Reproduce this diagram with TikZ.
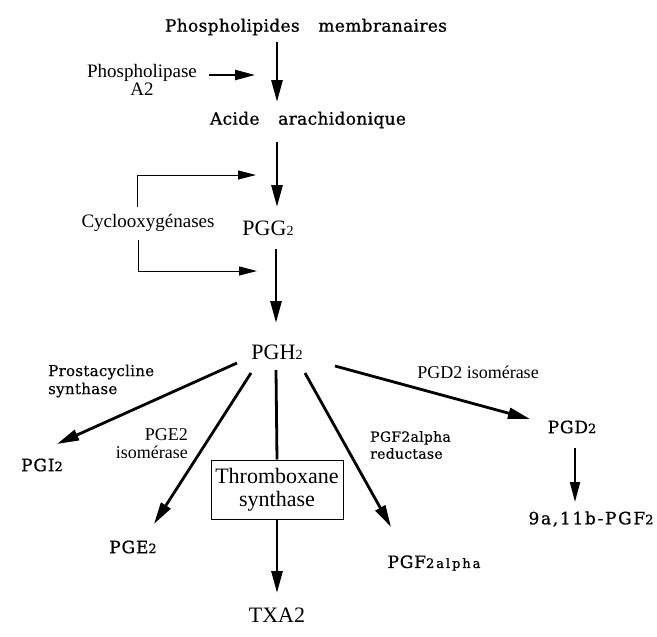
\documentclass[tikz,border=0pt]{standalone}
\usepackage{fontspec}
\setmainfont{Liberation Serif}
\newfontfamily\dvs[LetterSpace=2,FakeBold=0.8]{DejaVu Serif}
\newfontfamily\dvl[LetterSpace=2,FakeBold=0.4]{DejaVu Serif}
\newfontfamily\dvp[LetterSpace=5,FakeBold=0.8]{DejaVu Serif}
\newfontfamily\dvw[LetterSpace=10,FakeBold=0.8]{DejaVu Serif}
\newfontfamily\dvx[LetterSpace=15,FakeBold=0.8]{DejaVu Serif}
\usetikzlibrary{arrows.meta,calc}
\newcommand{\subtwo}[1]{{\fontsize{14}{14}\selectfont #1}}
\newcommand{\subtwodv}[1]{{\fontsize{13}{13}\selectfont #1}}
\begin{document}
\begin{tikzpicture}[x=1pt,y=-1pt,
  every node/.style={inner sep=0pt},
  wide/.style={font=\dvs\fontsize{17}{18}\selectfont},
  prod/.style={font=\dvp\fontsize{17}{18}\selectfont},
  tms/.style={font=\fontsize{19}{18}\selectfont},
  tmsbig/.style={font=\fontsize{22}{23}\selectfont},
  lab/.style={font=\fontsize{18}{18}\selectfont},
  small/.style={font=\dvl\fontsize{15}{18}\selectfont},
  big/.style={line width=2.8pt, -{Triangle[length=22pt,width=11pt]}},
  plain/.style={line width=2.8pt},
  med/.style={line width=2pt, -{Triangle[length=20pt,width=10pt]}},
  fine/.style={line width=1pt, -{Triangle[length=18pt,width=9pt]}},
  boxed/.style={draw, line width=1pt, minimum width=132pt, minimum height=59pt, align=center}
]
\useasboundingbox (0,0) rectangle (657,637);
\fill[white] (0,0) rectangle (657,637);

% main nodes
\node[wide] (phos) at (306,27) {Phospholipides\hspace{1.1em}membranaires};
\node[tms, align=center] (pla) at (142,80) {Phospholipase\\A2};
\node[wide] (acide) at (308,120) {Acide\hspace{1.1em}arachidonique};
\node[tms] (cox) at (148,223) {Cyclooxygénases};
\node[tmsbig] (pgg) at (268,228) {PGG\subtwo{2}};
\node[tmsbig] (pgh) at (277,352) {PGH\subtwo{2}};
\node[prod] (pgi) at (42,465) {PGI\subtwodv{2}};
\node[prod] (pge) at (133,547) {PGE\subtwodv{2}};
\node[boxed, tmsbig] (tbx) at (277,489.5) {Thromboxane\\synthase};
\node[tmsbig] (txa) at (277,615) {TXA2};
\node[prod] (pgf) at (434,563) {PGF{\dvx\fontsize{13}{13}\selectfont 2alpha}};
\node[prod] (pgd) at (572,427) {PGD\subtwodv{2}};
\node[prod, font=\dvw\fontsize{17}{18}\selectfont] (pgf9) at (591,519) {9a,11b-PGF\subtwodv{2}};

% enzyme labels
\node[small, align=left, anchor=west] (prost) at (48,381) {Prostacycline\\synthase};
\node[lab, align=right, anchor=east] (pgeiso) at (188,444) {PGE2\\isomérase};
\node[small, align=left, anchor=west, font=\dvl\fontsize{14}{17}\selectfont] (pgfred) at (370,445) {PGF2alpha\\reductase};
\node[lab] (pgdiso) at (478,372) {PGD2 isomérase};

% connectors
\draw[big] ($(phos)+(-29,15)$) -- ($(acide)+(-31,-18)$);
\draw[med] ($(pla.east)+(12,-5)$) -- ($(pla.east)+(58,-5)$);
\draw[big] ($(acide)+(-31,22)$) -- ($(pgg)+(9,-21)$);
\draw[fine] ($(cox)+(-11,-16)$) |- ($(pgg)+(-12,-53)$);
\draw[fine] ($(cox)+(-10,17)$) |- ($(pgg)+(-11,43)$);
\draw[big] ($(pgg)+(8,21)$) -- ($(pgh)+(-1,-29)$);
\draw[big] ($(pgh)+(-40,11)$) -- ($(pgi)+(15,-21)$);
\draw[big] ($(pgh)+(-26,21)$) -- ($(pge)+(21,-23)$);
\draw[plain] ($(pgh)+(-1,18)$) -- (tbx.north -| pgh);
\draw[big] (tbx.south -| txa) -- ($(txa)+(0,-22)$);
\draw[big] ($(pgh)+(28,21)$) -- ($(pgf)+(-43,-36)$);
\draw[big] ($(pgh)+(58,14)$) -- ($(pgd)+(-42,-8)$);
\draw[med] ($(pgd)+(3,21)$) -- ($(pgf9)+(-16,-17)$);
\end{tikzpicture}
\end{document}
